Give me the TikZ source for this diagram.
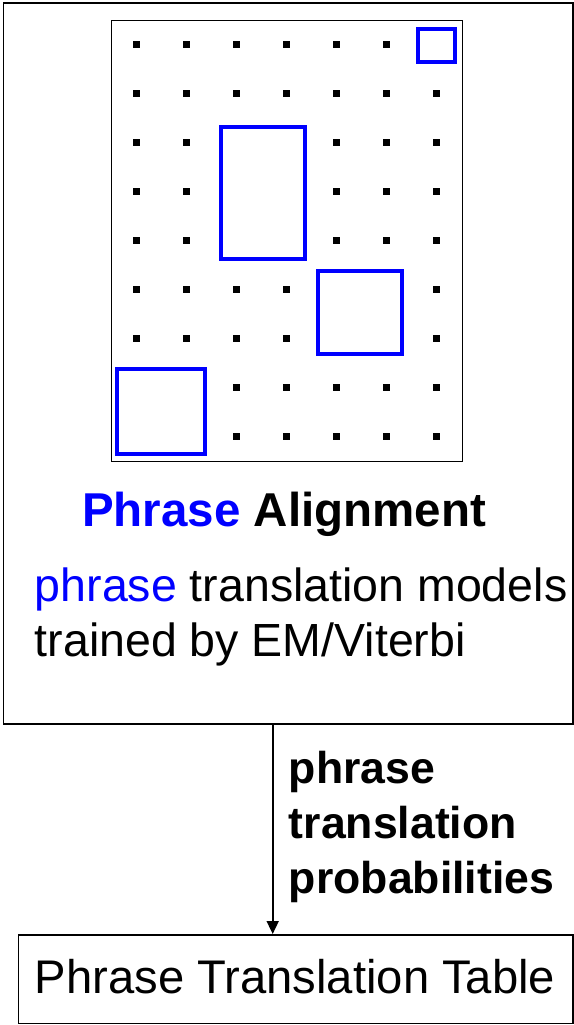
\documentclass[tikz,border=0pt]{standalone}
\usepackage{fontspec}
\setmainfont{Liberation Sans}
\usetikzlibrary{arrows.meta}
\definecolor{phraseblue}{RGB}{0,0,255}
\begin{document}
\begin{tikzpicture}[x=1pt,y=-1pt,
  frame/.style={draw=black, line width=1.7pt, inner sep=0pt, anchor=north west},
  gridframe/.style={draw=black, line width=1pt, inner sep=0pt, anchor=north west},
  cell/.style={fill=black},
  block/.style={draw=phraseblue, line width=4pt},
  txt/.style={inner sep=0pt, anchor=base west, font=\fontsize{46.5}{55}\selectfont},
  boldtxt/.style={inner sep=0pt, anchor=base west, font=\fontsize{47.5}{55}\selectfont\bfseries},
  flow/.style={line width=1.7pt, -{Triangle[width=12pt,length=13pt]}}]
\useasboundingbox (0,0) rectangle (573,1025);

% outer container and alignment matrix frame
\node[frame, minimum width=569.5pt, minimum height=720.8pt] (alignbox) at (2.5,2.5) {};
\node[gridframe, minimum width=350.7pt, minimum height=440.7pt] (grid) at (111,20) {};

% alignment points (column, row) on a 50 x 49 lattice
\foreach \c/\r in {0/0,1/0,2/0,3/0,4/0,5/0,
                   0/1,1/1,2/1,3/1,4/1,5/1,6/1,
                   0/2,1/2,4/2,5/2,6/2,
                   0/3,1/3,4/3,5/3,6/3,
                   0/4,1/4,4/4,5/4,6/4,
                   0/5,1/5,2/5,3/5,6/5,
                   0/6,1/6,2/6,3/6,6/6,
                   2/7,3/7,4/7,5/7,6/7,
                   2/8,3/8,4/8,5/8,6/8}{
  \fill[cell] ({136+50*\c-3.5},{44.3+49*\r-3.5}) rectangle ++(7,7);
}

% phrase blocks
\draw[block] (418,29) rectangle (455,62.5);
\draw[block] (220.5,127) rectangle (305,258.5);
\draw[block] (317.5,271) rectangle (402,353.5);
\draw[block] (117,369) rectangle (205,454);

% captions inside the container
\node[boldtxt] (title) at (82,526.7) {\textcolor{phraseblue}{Phrase} Alignment};
\node[txt] (line1) at (34.7,601.7) {\textcolor{phraseblue}{phrase} translation models};
\node[txt] (line2) at (34.7,656.7) {trained by EM/Viterbi};

% output table
\node[frame, minimum width=554.3pt, minimum height=88.7pt] (table) at (17.7,934) {};
\node[txt, font=\fontsize{47.2}{55}\selectfont] (tabletext) at (34.7,993) {Phrase Translation Table};

% connector
\coordinate (flowx) at (272.7,0);
\draw[flow] (alignbox.south -| flowx) -- (table.north -| flowx);
\node[boldtxt, font=\fontsize{44.6}{55}\selectfont\bfseries, align=left] (flowlabel) at (288.7,893)
  {phrase\\translation\\probabilities};
\end{tikzpicture}
\end{document}
